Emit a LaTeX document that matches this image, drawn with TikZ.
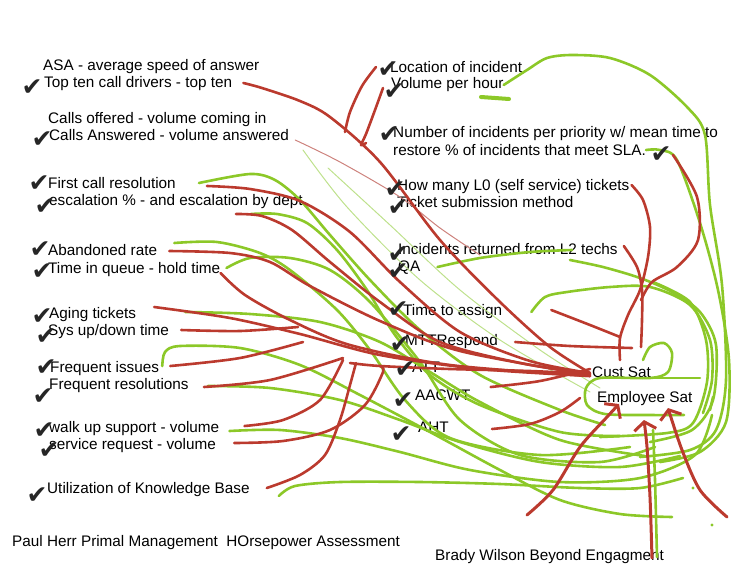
\documentclass[tikz,border=0pt]{standalone}
\usepackage{fontspec}
\setmainfont{Liberation Sans}
\newfontfamily\tickfont{DejaVu Sans}
\usetikzlibrary{arrows.meta}
\definecolor{inkred}{RGB}{187,58,46}
\definecolor{inkgreen}{RGB}{140,200,40}
\definecolor{palered}{RGB}{205,130,125}
\definecolor{palegreen}{RGB}{190,225,140}
\tikzset{
  item/.style={anchor=base west, inner sep=0pt, font=\fontsize{15.3}{18}\selectfont},
  tick/.style={inner sep=0pt, text=black!85, font=\tickfont\fontsize{25}{25}\selectfont},
  redline/.style={draw=inkred, line width=2.6pt, line cap=round, line join=round},
  greenline/.style={draw=inkgreen, line width=2.6pt, line cap=round, line join=round},
  thinred/.style={draw=palered, line width=1pt, line cap=round},
  thingreen/.style={draw=palegreen, line width=1pt, line cap=round},
  barb/.style={redline, line width=3pt, -{Straight Barb[length=8pt,width=22pt]}}
}

\begin{document}
\begin{tikzpicture}[x=1pt, y=-1pt]
  \useasboundingbox (0,0) rectangle (735,563);

  % call centre measures
  \node[item] (asa) at (43,70) {ASA - average speed of answer};
  \node[item] (topten) at (44,87) {Top ten call drivers - top ten};
  \node[item] (offered) at (48,123) {Calls offered - volume coming in};
  \node[item] (answered) at (49,140) {Calls Answered - volume answered};
  \node[item] (fcr) at (48,188) {First call resolution};
  \node[item] (escal) at (49,205) {escalation \% - and escalation by dept};
  \node[item] (aband) at (48,255) {Abandoned rate};
  \node[item] (queue) at (48,273) {Time in queue - hold time};
  \node[item] (aging) at (49,318) {Aging tickets};
  \node[item] (sysup) at (48,335) {Sys up/down time};
  \node[item] (freqi) at (50,372) {Frequent issues};
  \node[item] (freqr) at (49,389) {Frequent resolutions};
  \node[item] (walkup) at (49,432) {walk up support - volume};
  \node[item] (servreq) at (49,449) {service request - volume};
  \node[item] (kb) at (47,493) {Utilization of Knowledge Base};
  \node[item] (herr) at (12,546) {Paul Herr Primal Management\hspace{0.55em}HOrsepower Assessment};

  % incident measures
  \node[item] (loc) at (390,72) {Location of incident};
  \node[item] (vph) at (391,88) {Volume per hour};
  \node[item] (prio1) at (393,137) {Number of incidents per priority w/ mean time to};
  \node[item] (prio2) at (393,155) {restore \% of incidents that meet SLA.};
  \node[item] (lzero) at (397,190) {How many L0 (self service) tickets};
  \node[item] (submit) at (397,207) {Ticket submission method};
  \node[item] (ltwo) at (398,254) {Incidents returned from L2 techs};
  \node[item] (qa) at (398,271) {QA};
  \node[item] (assign) at (403,315) {Time to assign};
  \node[item] (mttr) at (405,345) {MTTRespond};
  \node[item] (att) at (412,372) {ATT};
  \node[item] (aacwt) at (415,400) {AACWT};
  \node[item] (aht) at (418,432) {AHT};

  % the two outcomes
  \node[item] (cust) at (592,377) {Cust Sat};
  \node[item] (emp) at (597,402) {Employee Sat};
  \node[item] (wilson) at (435,560) {Brady Wilson Beyond Engagment};

  \coordinate (hub) at (590,373);

  % pale strokes
  \draw[thinred] plot[smooth] coordinates {([shift={(6,0)}]answered.base east) (340,162) (400,197) (440,228) (480,255)};
  \draw[thingreen] plot[smooth] coordinates {(303,150) (347,207) (420,280) (500,340) (590,392)};
  \draw[thingreen] plot[smooth] coordinates {(328,168) (390,225) (460,290) (540,350) (600,388)};

  % green: towards Employee Sat
  \draw[greenline] plot[smooth] coordinates {([shift={(23,-5)}]fcr.base east) (250,174) (275,180) (300,200) (330,235) (370,280) (420,330) (480,375) (560,410) (605,425)};
  \draw[greenline] plot[smooth] coordinates {([shift={(-52,9)}]escal.base east) (277,214) (307,223) (337,250) (367,290) (395,335) (430,375) (480,405) (560,432) (620,436)};
  \draw[greenline] plot[smooth] coordinates {([shift={(17,-12)}]aband.base east) (217,242) (260,253) (290,270) (337,310) (370,350) (405,400) (450,438) (540,455) (630,447)};
  \draw[greenline] plot[smooth] coordinates {([shift={(6,-5)}]queue.base east) (250,258) (290,258) (330,270) (370,302) (420,362) (460,420) (520,455) (600,462) (655,447)};
  \draw[greenline] plot[smooth] coordinates {([shift={(49,-6)}]aging.base east) (250,314) (320,322) (380,342) (430,372) (480,402) (560,440) (645,456)};
  \draw[greenline] plot[smooth] coordinates {([shift={(3,-6)}]freqi.base east) (165,352) (180,346) (240,348) (300,365) (360,395) (430,432) (500,470) (560,500) (620,514) (672,517)};
  \draw[greenline] plot[smooth] coordinates {([shift={(19,-3)}]freqr.base east) (270,388) (340,400) (400,420) (460,442) (540,462) (620,467) (680,456)};
  \draw[greenline] plot[smooth] coordinates {([shift={(10,-1)}]walkup.base east) (280,430) (340,438) (400,452) (470,470) (560,482) (640,478) (695,455) (712,415)};
  \draw[greenline] plot[smooth] coordinates {([shift={(29,3)}]kb.base east) (295,486) (340,482) (420,482) (500,484) (580,488) (640,488) (683,478)};
  \draw[greenline] plot[smooth] coordinates {([shift={(17,-4)}]qa.base east) (480,258) (530,252) (572,250)};
  \draw[greenline] plot[smooth] coordinates {(570,260) (603,267) (640,278) (672,292) (700,312) (716,345) (713,400) (692,430) (650,442)};
  \draw[greenline] plot[smooth] coordinates {([shift={(29,-3)}]assign.base east) (545,297) (567,292) (610,287) (650,287) (690,305) (710,340) (712,380) (703,413)};
  \draw[greenline] plot[smooth] coordinates {([shift={(0,-3)}]vph.base east) (527,70) (547,58) (572,55) (610,58) (650,75) (688,108) (705,135) (710,205) (722,285) (726,380) (716,430) (690,450) (640,457)};
  \draw[greenline, line width=4pt] (481,97) -- (509,99);
  \draw[greenline] plot[smooth] coordinates {([shift={(0,-5)}]prio2.base east) (660,150) (677,160) (700,223) (718,290) (729,360) (726,422) (700,452) (660,462)};
  \draw[greenline] plot[smooth] coordinates {(653,282) (690,302) (706,340) (707,382) (693,423) (667,433) (600,437)};
  % loop round Employee Sat
  \draw[greenline] plot[smooth] coordinates {(643,360) (650,347) (664,343) (672,353) (668,372) (650,378) (600,378) (586,388) (587,405) (605,414) (650,415) (684,415)};
  \draw[greenline] (640,378) -- (700,378);
  \draw[greenline] plot[smooth] coordinates {(653,430) (655,480) (657,557)};
  \draw[greenline] (713,397) -- (710,410);
  \fill[inkgreen] (693,488) circle (1.6) (712,525) circle (1.6);

  % red: towards Cust Sat
  \draw[redline] plot[smooth] coordinates {([shift={(11,-4)}]topten.base east) (262,88) (300,101) (330,117) (380,162) (440,240) (500,302) (550,347) (hub)};
  \draw[redline] plot[smooth] coordinates {(376,67) (362,86) (350,112) (345,132)};
  \draw[redline] plot[smooth] coordinates {(383,88) (375,110) (366,134) (361,145) (366,143)};
  \draw[redline] plot[smooth] coordinates {([shift={(31,-2)}]fcr.base east) (250,189) (300,201) (350,232) (400,282) (460,332) (530,361) (hub)};
  \draw[redline] plot[smooth] coordinates {([shift={(-67,9)}]escal.base east) (262,216) (292,230) (330,262) (380,302) (440,342) (520,363) ([yshift=-1]hub)};
  \draw[redline] plot[smooth] coordinates {([shift={(12,-4)}]aband.base east) (230,253) (270,262) (310,286) (380,321) (460,351) ([yshift=-2]hub)};
  \draw[redline] plot[smooth] coordinates {([shift={(0,0)}]queue.base east) (245,295) (290,320) (350,345) (450,365) ([yshift=-3]hub)};
  \draw[redline] plot[smooth] coordinates {([shift={(18,-11)}]aging.base east) (230,318) (300,334) (380,355) (480,369) ([yshift=-3]hub)};
  \draw[redline] plot[smooth] coordinates {([shift={(12,-5)}]sysup.base east) (240,331) (298,327)};
  \draw[redline] plot[smooth] coordinates {([shift={(11,-6)}]freqi.base east) (240,358) (303,342)};
  \draw[redline] plot[smooth] coordinates {([shift={(15,-2)}]freqr.base east) (270,380) (343,358)};
  \draw[redline] plot[smooth] coordinates {(350,363) (380,366) (450,369) (530,371) ([yshift=-1]hub)};
  \draw[redline] plot[smooth] coordinates {([shift={(25,-6)}]walkup.base east) (283,420) (320,400) (343,360)};
  \draw[redline] plot[smooth] coordinates {([shift={(18,-6)}]servreq.base east) (283,441) (330,430) (365,405) (383,372) (380,366)};
  \draw[redline] plot[smooth] coordinates {([shift={(17,-5)}]kb.base east) (300,475) (325,455) (340,420) (350,385) (356,363)};
  \draw[redline] plot[smooth] coordinates {([shift={(17,-3)}]mttr.base east) (570,346) (632,348)};
  \draw[redline] plot[smooth] coordinates {([shift={(49,-5)}]assign.base east) (590,325) (620,337)};
  \draw[redline] plot[smooth] coordinates {([shift={(20,-13)}]aacwt.base east) (540,381) ([yshift=4]hub)};
  \draw[redline] plot[smooth] coordinates {([shift={(43,-3)}]aht.base east) (530,424) (560,412) (580,398)};
  \draw[redline] plot[smooth] coordinates {([shift={(2,-5)}]lzero.base east) (643,200) (650,227) (648,257) (640,290) (628,315) (620,338) (620,360)};
  \draw[redline] plot[smooth] coordinates {([shift={(6,-8)}]ltwo.base east) (637,267) (642,290) (642,320) (641,347)};
  \draw[redline] plot[smooth] coordinates {(673,155) (697,197) (698,240) (677,267) (652,282) (641,300)};

  % red arrows up into Employee Sat
  \draw[barb] plot[smooth] coordinates {(527,515) (553,490) (580,447) (607,417) (619,404)};
  \draw[barb] plot[smooth] coordinates {(652,558) (650,497) (647,447) (644,420)};
  \draw[barb] plot[smooth] coordinates {(727,517) (700,490) (682,450) (668,408)};

  % ticks
  \foreach \x/\y [count=\i] in {32/88, 42/140, 39/184, 45/207, 40/250, 42/272, 42/317, 46/337,
      46/368, 43/397, 44/431, 49/451, 37/496, 388/70, 394/92, 389/135, 661/155, 395/190,
      398/208, 398/255, 398/272, 398/310, 400/345, 405/370, 403/401, 401/435}
    \node[tick] (tick\i) at (\x,\y) {✔};
\end{tikzpicture}
\end{document}
